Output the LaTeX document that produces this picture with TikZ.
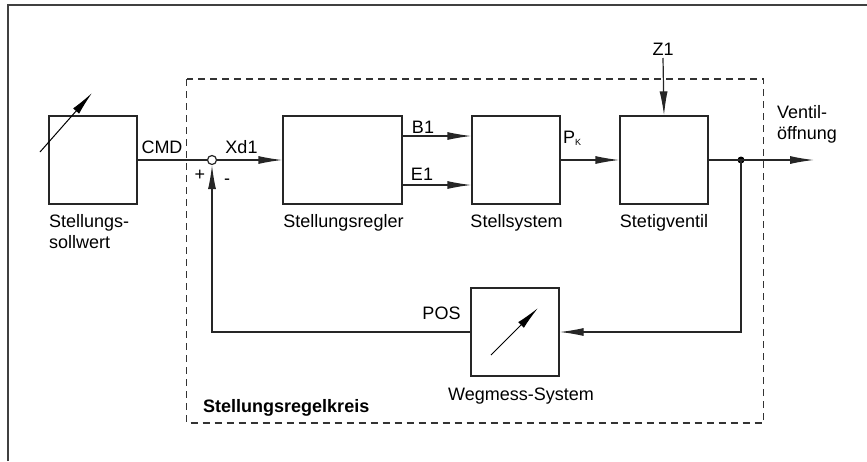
\documentclass[tikz,border=0pt]{standalone}
\usepackage{fontspec}
\setmainfont{Liberation Sans}
\usetikzlibrary{arrows.meta}
\begin{document}
\begin{tikzpicture}[x=1pt,y=-1pt,
  ln/.style={line width=1.2pt, draw=black!85},
  blk/.style={ln, minimum width=88pt, minimum height=88pt, inner sep=0pt},
  lbl/.style={font=\fontsize{18}{21}\selectfont, inner sep=0pt, anchor=base},
  lblw/.style={lbl, anchor=base west},
  arr/.style={-{Latex[length=24pt,width=8pt]}},
  sym/.style={line width=1pt, -{Latex[length=24pt,width=8pt]}},
  frame/.style={line width=1.2pt, draw=black!80, dash pattern=on 7pt off 5pt},
]
\useasboundingbox (0,0) rectangle (867,461);
% outer frame (only top and left visible)
\draw[line width=1.8pt, draw=black!75] (8,461) -- (8,5) -- (867,5);
% dashed loop boundary
\draw[frame] (186.5,79) rectangle (763.5,423);

% blocks
\node[blk] (soll) at (93,160) {};
\node[blk, minimum width=119pt] (regler) at (342.5,160) {};
\node[blk] (stell) at (516,160) {};
\node[blk] (ventil) at (664,160) {};
\node[blk] (weg) at (515,332) {};
\node[circle, ln, draw, fill=white, minimum size=9pt, inner sep=0pt] (sum) at (212,160) {};
\node[circle, fill=black, minimum size=7pt, inner sep=0pt] (dot) at (741,160) {};
\coordinate (out) at (814,160);
\coordinate (z1top) at (663,58);
\coordinate (fbcorner) at (741,332);
\coordinate (fbleft) at (212,332);

% adjustable-symbol arrows
\draw[sym] ([shift={(-53,-8)}]soll.center) -- ([shift={(-1,-67)}]soll.center);
\draw[sym] ([shift={(-24,23)}]weg.center) -- ([shift={(23,-24)}]weg.center);

% connectors
\draw[ln] (soll.east) -- (sum.west);
\draw[ln, arr] (sum.east) -- (regler.west);
\draw[ln, arr] ([yshift=24pt]regler.east) -- ([yshift=24pt]stell.west);
\draw[ln, arr] ([yshift=-25pt]regler.east) -- ([yshift=-25pt]stell.west);
\draw[ln, arr] (stell.east) -- (ventil.west);
\draw[ln, arr] (ventil.east) -- (out);
\draw[ln, arr] (z1top) -- (ventil.north);
\draw[ln, arr] (dot.center) -- (fbcorner) -- (weg.east);
\draw[ln, arr] (weg.west) -- (fbleft) -- (sum.south);

% labels
\node[lbl] (tcmd) at (162,153) {CMD};
\node[lbl] (txd) at (241.5,153) {Xd1};
\node[lbl, anchor=center] (tplus) at (200,175) {+};
\node[lbl, anchor=center] (tminus) at (227,182) {-};
\node[lbl] (tb1) at (423,133) {B1};
\node[lbl] (te1) at (422,180) {E1};
\node[lblw] (tpk) at (563,143) {P\raisebox{-0.25ex}{\fontsize{9}{9}\selectfont K}};
\node[lbl] (tpos) at (441.5,319) {POS};
\node[lbl] (tz1) at (663,55) {Z1};
\node[lblw] (tv1) at (777,118) {Ventil-};
\node[lblw] (tv2) at (777,139) {öffnung};
\node[lblw] (ts1) at (49,227) {Stellungs-};
\node[lblw] (ts2) at (49,248) {sollwert};
\node[lbl] (treg) at (343.5,227) {Stellungsregler};
\node[lbl] (tstell) at (516.5,227) {Stellsystem};
\node[lbl] (tvent) at (664,227) {Stetigventil};
\node[lbl] (tweg) at (521,400) {Wegmess-System};
\node[lblw, font=\fontsize{18}{21}\selectfont\bfseries] (tkreis) at (203,412) {Stellungsregelkreis};
\end{tikzpicture}
\end{document}
